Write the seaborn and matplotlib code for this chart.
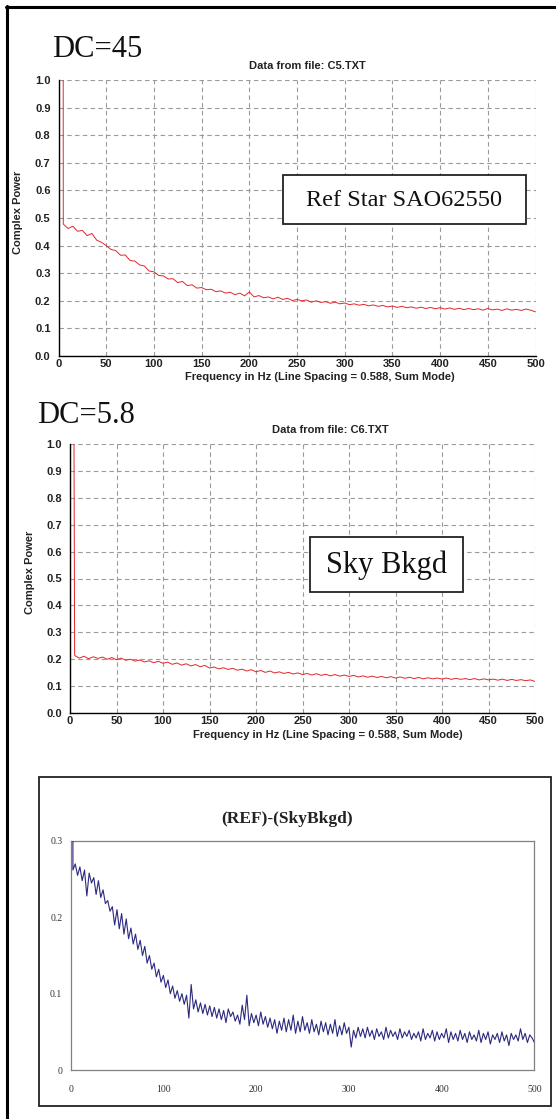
import numpy as np
import pandas as pd
import matplotlib
matplotlib.use("Agg")
import matplotlib.pyplot as plt
import seaborn as sns
from matplotlib.patches import Rectangle
from matplotlib.lines import Line2D

# ---------------- data ----------------
# Panel 1: Ref star spectrum, 5 Hz sampling; first value is the DC term (off scale)
ref_power = [45, 0.478, 0.462, 0.470, 0.452, 0.455, 0.436, 0.444, 0.420, 0.412, 0.400,
             0.386, 0.382, 0.365, 0.366, 0.346, 0.344, 0.330, 0.326, 0.308, 0.305,
             0.292, 0.290, 0.279, 0.280, 0.266, 0.270, 0.255, 0.258, 0.246, 0.248,
             0.240, 0.242, 0.233, 0.236, 0.228, 0.231, 0.222, 0.228, 0.218, 0.232,
             0.214, 0.219, 0.211, 0.214, 0.207, 0.213, 0.205, 0.209, 0.201, 0.205,
             0.200, 0.203, 0.195, 0.200, 0.194, 0.197, 0.191, 0.195, 0.189, 0.192,
             0.186, 0.189, 0.184, 0.187, 0.182, 0.185, 0.180, 0.183, 0.178, 0.181,
             0.176, 0.180, 0.175, 0.178, 0.173, 0.177, 0.172, 0.176, 0.171, 0.175,
             0.170, 0.174, 0.169, 0.173, 0.168, 0.172, 0.168, 0.171, 0.166, 0.172,
             0.167, 0.170, 0.165, 0.171, 0.166, 0.169, 0.165, 0.170, 0.166, 0.160]

# Panel 2: Sky background spectrum, 5 Hz sampling; first value is the DC term
sky_power = [5.8, 0.214, 0.204, 0.211, 0.202, 0.209, 0.203, 0.208, 0.200, 0.206, 0.198,
             0.204, 0.196, 0.200, 0.193, 0.197, 0.190, 0.194, 0.187, 0.192, 0.185,
             0.189, 0.181, 0.186, 0.178, 0.183, 0.175, 0.180, 0.172, 0.177, 0.167,
             0.171, 0.164, 0.168, 0.162, 0.166, 0.159, 0.163, 0.156, 0.161, 0.153,
             0.158, 0.151, 0.156, 0.149, 0.153, 0.147, 0.151, 0.145, 0.149, 0.143,
             0.147, 0.141, 0.146, 0.140, 0.144, 0.138, 0.143, 0.137, 0.141, 0.136,
             0.140, 0.134, 0.138, 0.133, 0.137, 0.132, 0.136, 0.131, 0.135, 0.130,
             0.134, 0.129, 0.133, 0.128, 0.132, 0.127, 0.131, 0.127, 0.130, 0.126,
             0.130, 0.125, 0.129, 0.125, 0.128, 0.124, 0.128, 0.123, 0.127, 0.123,
             0.126, 0.122, 0.126, 0.121, 0.125, 0.121, 0.124, 0.120, 0.123, 0.117]

# Panel 3: difference (REF)-(SkyBkgd), 2.5 Hz sampling; first value off scale
diff_power = [39.2, 0.262, 0.270, 0.255, 0.266, 0.248, 0.262, 0.228, 0.258, 0.245,
              0.252, 0.230, 0.248, 0.226, 0.236, 0.218, 0.222, 0.208, 0.214, 0.190,
              0.210, 0.185, 0.205, 0.178, 0.198, 0.172, 0.186, 0.165, 0.178, 0.158,
              0.170, 0.150, 0.162, 0.140, 0.150, 0.132, 0.140, 0.122, 0.132, 0.115,
              0.124, 0.108, 0.118, 0.100, 0.110, 0.094, 0.104, 0.090, 0.100, 0.086,
              0.098, 0.068, 0.112, 0.080, 0.092, 0.076, 0.088, 0.074, 0.086, 0.072,
              0.084, 0.070, 0.082, 0.068, 0.080, 0.066, 0.078, 0.062, 0.080, 0.070,
              0.076, 0.064, 0.072, 0.060, 0.085, 0.066, 0.098, 0.058, 0.074, 0.062,
              0.072, 0.058, 0.076, 0.060, 0.070, 0.056, 0.068, 0.054, 0.066, 0.048,
              0.064, 0.052, 0.068, 0.050, 0.066, 0.052, 0.072, 0.048, 0.064, 0.050,
              0.070, 0.052, 0.062, 0.048, 0.066, 0.050, 0.060, 0.046, 0.064, 0.050,
              0.062, 0.046, 0.060, 0.048, 0.066, 0.044, 0.058, 0.046, 0.062, 0.048,
              0.056, 0.030, 0.052, 0.042, 0.056, 0.044, 0.054, 0.042, 0.056, 0.044,
              0.052, 0.040, 0.054, 0.044, 0.050, 0.040, 0.056, 0.042, 0.052, 0.044,
              0.050, 0.040, 0.054, 0.042, 0.050, 0.044, 0.052, 0.040, 0.048, 0.042,
              0.050, 0.038, 0.054, 0.040, 0.048, 0.042, 0.052, 0.038, 0.050, 0.040,
              0.048, 0.042, 0.054, 0.036, 0.050, 0.040, 0.048, 0.038, 0.052, 0.040,
              0.048, 0.036, 0.050, 0.040, 0.046, 0.038, 0.052, 0.036, 0.048, 0.040,
              0.050, 0.034, 0.046, 0.040, 0.048, 0.036, 0.050, 0.038, 0.046, 0.032,
              0.048, 0.040, 0.046, 0.038, 0.054, 0.040, 0.048, 0.036, 0.046, 0.042,
              0.036]

spec_xticks = [0, 50, 100, 150, 200, 250, 300, 350, 400, 450, 500]
spec_yticks = [0.0, 0.1, 0.2, 0.3, 0.4, 0.5, 0.6, 0.7, 0.8, 0.9, 1.0]
diff_xticks = [0, 100, 200, 300, 400, 500]
diff_yticks = [0, 0.1, 0.2, 0.3]
diff_yticklabels = ["0", "0.1", "0.2", "0.3"]

panel_titles = ["Data from file: C5.TXT", "Data from file: C6.TXT"]
dc_labels = ["DC=45", "DC=5.8"]
box_labels = ["Ref Star SAO62550", "Sky Bkgd"]
xlabel_text = "Frequency in Hz (Line Spacing = 0.588, Sum Mode)"
ylabel_text = "Complex Power"
diff_title = "(REF)-(SkyBkgd)"

# ---------------- layout helpers ----------------
W, H = 556, 1119
sns.set_theme(style="white")
plt.rcParams["font.family"] = ["Liberation Sans", "DejaVu Sans"]
fig = plt.figure(figsize=(W / 100, H / 100), dpi=100)
fig.patch.set_facecolor("white")

SANS = ["Liberation Sans", "DejaVu Sans"]
SERIF = ["Liberation Serif", "DejaVu Serif"]
RED = "#e3262b"
NAVY = "#2b2a7e"


def fx(x):
    return x / W


def fy(y):
    return 1 - y / H


def axes_px(x0, y0, x1, y1):
    return fig.add_axes([fx(x0), fy(y1), (x1 - x0) / W, (y1 - y0) / H])


def spectrum_panel(ax, power):
    freq = np.linspace(0, 500, len(power))
    df = pd.DataFrame({"freq": freq, "power": power})
    sns.lineplot(data=df, x="freq", y="power", ax=ax, color=RED, lw=0.7,
                 estimator=None, sort=False, zorder=3)
    ax.set_xlim(0, 500)
    ax.set_ylim(0, 1)
    ax.set_xticks(spec_xticks)
    ax.set_yticks(spec_yticks)
    ax.set_xticklabels([str(v) for v in spec_xticks], fontweight="bold",
                       fontsize=8, family=SANS, color="#222")
    ax.set_yticklabels([f"{v:.1f}" for v in spec_yticks], fontweight="bold",
                       fontsize=8, family=SANS, color="#222")
    ax.set_xlabel("")
    ax.set_ylabel("")
    ax.set_axisbelow(True)
    ax.grid(True, color="#9a9a9a", lw=0.8, linestyle=(0, (4, 3)))
    for s in ["top", "right"]:
        ax.spines[s].set_visible(False)
    for s in ["left", "bottom"]:
        ax.spines[s].set_color("black")
        ax.spines[s].set_linewidth(1.0)
    ax.tick_params(axis="both", direction="inout", length=4.5, width=1.0,
                   color="black")
    ax.tick_params(axis="x", pad=0)
    ax.tick_params(axis="y", pad=3.5)
    ax.set_facecolor("white")


# ---------------- panel 1 ----------------
ax1 = axes_px(58.5, 80, 535.5, 356)
spectrum_panel(ax1, ref_power)
fig.text(fx(52.5), fy(57), dc_labels[0], family=SERIF, fontsize=22,
         color="#111", va="baseline", ha="left")
fig.text(fx(307), fy(69), panel_titles[0], family=SANS, fontsize=8,
         fontweight="bold", color="#222", va="baseline", ha="center")
fig.text(fx(320), fy(380), xlabel_text, family=SANS, fontsize=8,
         fontweight="bold", color="#222", va="baseline", ha="center")
fig.text(fx(18.5), fy(212), ylabel_text, family=SANS, fontsize=8,
         fontweight="bold", color="#222", va="center", ha="center",
         rotation=90)
fig.add_artist(Rectangle((fx(283), fy(224)), (526 - 283) / W, (224 - 175) / H,
                         transform=fig.transFigure, facecolor="white",
                         edgecolor="#222", lw=1.3, zorder=5))
fig.text(fx(404.5), fy(200), box_labels[0], family=SERIF, fontsize=17.5,
         color="#111", va="center", ha="center", zorder=6)

# ---------------- panel 2 ----------------
ax2 = axes_px(70, 444, 535, 713)
spectrum_panel(ax2, sky_power)
fig.text(fx(37), fy(423), dc_labels[1], family=SERIF, fontsize=22,
         color="#111", va="baseline", ha="left")
fig.text(fx(330), fy(433), panel_titles[1], family=SANS, fontsize=8,
         fontweight="bold", color="#222", va="baseline", ha="center")
fig.text(fx(328), fy(738), xlabel_text, family=SANS, fontsize=8,
         fontweight="bold", color="#222", va="baseline", ha="center")
fig.text(fx(30), fy(572), ylabel_text, family=SANS, fontsize=8,
         fontweight="bold", color="#222", va="center", ha="center",
         rotation=90)
fig.add_artist(Rectangle((fx(310), fy(592)), (463 - 310) / W, (592 - 537) / H,
                         transform=fig.transFigure, facecolor="white",
                         edgecolor="#222", lw=1.3, zorder=5))
fig.text(fx(386.5), fy(565), box_labels[1], family=SERIF, fontsize=22,
         color="#111", va="center", ha="center", zorder=6)

# ---------------- panel 3 (difference) ----------------
fig.add_artist(Rectangle((fx(39), fy(1106)), (551 - 39) / W, (1106 - 777) / H,
                         transform=fig.transFigure, facecolor="none",
                         edgecolor="#222", lw=1.3, zorder=1))
ax3 = axes_px(70.6, 841, 534.4, 1070)
diff_freq = np.linspace(0, 500, len(diff_power))
df3 = pd.DataFrame({"freq": diff_freq, "power": diff_power})
sns.lineplot(data=df3, x="freq", y="power", ax=ax3, color=NAVY, lw=0.8,
             estimator=None, sort=False, zorder=3)
ax3.set_xlim(0, 500)
ax3.set_ylim(0, 0.3)
ax3.set_xticks(diff_xticks)
ax3.set_yticks(diff_yticks)
ax3.set_xticklabels([str(v) for v in diff_xticks], family=SERIF, fontsize=7,
                    color="#333")
ax3.set_yticklabels(diff_yticklabels, family=SERIF, fontsize=7, color="#333")
ax3.set_xlabel("")
ax3.set_ylabel("")
ax3.grid(False)
for s in ax3.spines.values():
    s.set_color("#808080")
    s.set_linewidth(0.9)
ax3.tick_params(axis="both", length=0)
ax3.tick_params(axis="x", pad=11)
ax3.tick_params(axis="y", pad=6)
fig.text(fx(287), fy(823), diff_title, family=SERIF, fontsize=12.5,
         fontweight="bold", color="#222", va="baseline", ha="center")

# ---------------- page frame (top and left edges) ----------------
fig.add_artist(Line2D([fx(6.5), fx(6.5)], [fy(6), 0], transform=fig.transFigure,
                      color="black", lw=2.2))
fig.add_artist(Line2D([fx(5.5), 1], [fy(7.3), fy(7.3)], transform=fig.transFigure,
                      color="black", lw=2.2))

fig.savefig("out.png", dpi=100)
